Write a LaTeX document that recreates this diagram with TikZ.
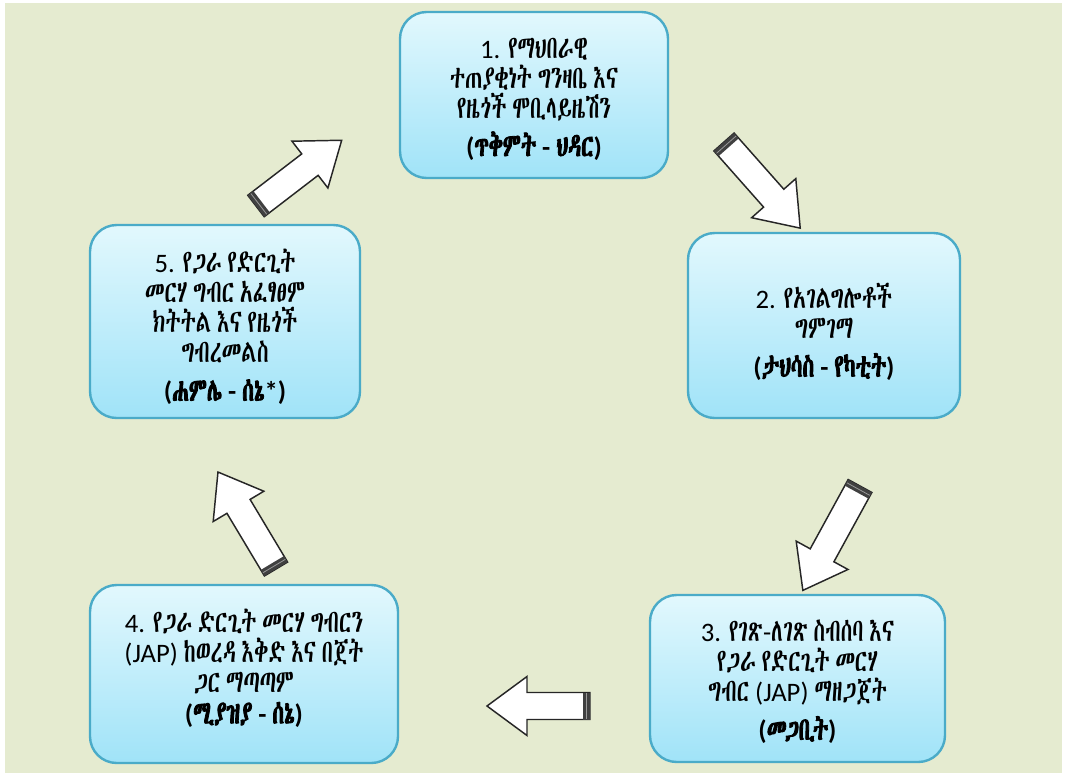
\documentclass[tikz,border=0pt]{standalone}
\usepackage{fontspec}
\setmainfont{Carlito}
\IfFontExistsTF{Abyssinica SIL}{\newfontfamily\ethfont[Script=Ethiopic, Scale=1.2, FakeStretch=0.66, WordSpace=0.6, AutoFakeBold=2.5]{Abyssinica SIL}}{\newfontfamily\ethfont[Script=Ethiopic, Scale=1.2, FakeStretch=0.66, WordSpace=0.6, AutoFakeBold=2.5]{FreeSerif}}
\newcommand{\E}[1]{{\ethfont #1}}
\definecolor{bgc}{HTML}{E5EBD0}
\definecolor{boxtop}{HTML}{E2F8FD}
\definecolor{boxbot}{HTML}{A0E3F8}
\definecolor{boxline}{HTML}{4AABC8}
\tikzset{
  box/.style={draw=boxline, line width=1.8pt, rounded corners=20pt, top color=boxtop, bottom color=boxbot, inner sep=0pt},
  boxtext/.style={align=center, font=\fontsize{20}{22.5}\selectfont, inner sep=0pt},
  pics/blkarrow/.style={code={
    \draw[fill=white, draw=black!85, line width=1.1pt, line join=miter]
      (0,-13.5) -- (#1-40,-13.5) -- (#1-40,-29.5) -- (#1,0) -- (#1-40,29.5) -- (#1-40,13.5) -- (0,13.5) -- cycle;
    \fill[black!75] (0,-13.5) rectangle (7,13.5);
    \draw[black!40, line width=0.6pt] (3.5,-13) -- (3.5,13);
  }}
}
\begin{document}
\begin{tikzpicture}[x=0.75pt, y=-0.75pt]
\useasboundingbox (0,0) rectangle (1067,778);
\fill[bgc] (5,3) rectangle (1062,773);

\node[box, minimum width=0.75*268pt, minimum height=0.75*166pt] (b1) at (534,95) {};
\node[box, minimum width=0.75*272pt, minimum height=0.75*185pt] (b2) at (824,325.5) {};
\node[box, minimum width=0.75*295pt, minimum height=0.75*167pt] (b3) at (797.5,678.5) {};
\node[box, minimum width=0.75*308pt, minimum height=0.75*178pt] (b4) at (244,674) {};
\node[box, minimum width=0.75*270pt, minimum height=0.75*193pt] (b5) at (225,321.5) {};

\node[boxtext] (b1t) at (534,99)
  {1. \E{የማህበራዊ}\\ \E{ተጠያቂነት ግንዛቤ እና}\\ \E{የዜጎች ሞቢላይዜሽን}\\[6pt] \textbf{(\E{ጥቅምት} - \E{ህዳር})}};
\node[boxtext] (b2t) at (824,332)
  {2. \E{የአገልግሎቶች}\\ \E{ግምገማ}\\[6pt] \textbf{(\E{ታህሳስ} - \E{የካቲት})}};
\node[boxtext] (b3t) at (797.5,682)
  {3. \E{የገጽ}-\E{ለገጽ ስብሰባ እና}\\ \E{የጋራ የድርጊት መርሃ}\\ \E{ግብር} (JAP) \E{ማዘጋጀት}\\[6pt] \textbf{(\E{መጋቢት})}};
\node[boxtext] (b4t) at (244,668)
  {4. \E{የጋራ ድርጊት መርሃ ግብርን}\\ (JAP) \E{ከወረዳ እቅድ እና በጀት}\\ \E{ጋር ማጣጣም}\\[1pt] \textbf{(\E{ሚያዝያ} - \E{ሰኔ})}};
\node[boxtext] (b5t) at (225,327)
  {5. \E{የጋራ የድርጊት}\\ \E{መርሃ ግብር አፈፃፀም}\\ \E{ክትትል እና የዜጎች}\\ \E{ግብረመልስ}\\[6pt] \textbf{(\E{ሐምሌ} - \E{ሰኔ}*)}};

\coordinate (t12) at (724,142);
\coordinate (t23) at (860,486);
\coordinate (t34) at (590,706);
\coordinate (t45) at (276,569);
\coordinate (t51) at (256,206);
\pic[rotate=-48.5] at (t12) {blkarrow=115};
\pic[rotate=-118.7] at (t23) {blkarrow=119};
\pic[rotate=180] at (t34) {blkarrow=103};
\pic[rotate=120.9] at (t45) {blkarrow=113};
\pic[rotate=37.5] at (t51) {blkarrow=108};
\end{tikzpicture}
\end{document}
